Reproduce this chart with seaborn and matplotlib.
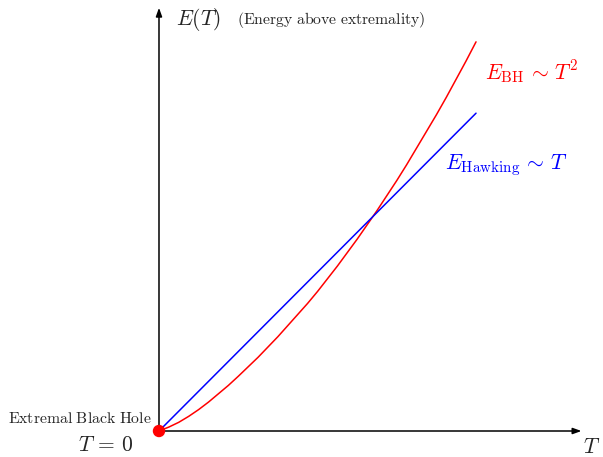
import matplotlib
matplotlib.use("Agg")
import matplotlib.pyplot as plt
import seaborn as sns
import pandas as pd

# ---- data (units: 1 unit ~ 79 px) ----
T_bh = [0, 0.125, 0.25, 0.375, 0.5, 0.625, 0.75, 0.875, 1.0, 1.125, 1.25,
        1.375, 1.5, 1.625, 1.75, 1.875, 2.0, 2.125, 2.25, 2.375, 2.5, 2.625,
        2.75, 2.875, 3.0, 3.125, 3.25, 3.375, 3.5, 3.625, 3.75, 3.875, 4.0]
E_bh = [0, 0.05, 0.11, 0.185, 0.27, 0.365, 0.47, 0.575, 0.69, 0.81, 0.93,
        1.06, 1.19, 1.33, 1.47, 1.61, 1.76, 1.92, 2.08, 2.25, 2.42, 2.60,
        2.78, 2.97, 3.16, 3.36, 3.57, 3.78, 3.99, 4.21, 4.44, 4.67, 4.91]
T_hawk = [0, 4.0]
E_hawk = [0, 4.01]
origin_T = [0]
origin_E = [0]

sns.set_style("white")
plt.rcParams["mathtext.fontset"] = "cm"
plt.rcParams["font.family"] = ["DejaVu Serif"]

fig = plt.figure(figsize=(6.03, 4.57), dpi=100)
ax = fig.add_axes([0, 0, 1, 1])
ax.set_xlim(-2.006, 5.602)
ax.set_ylim(-0.328, 5.438)
ax.axis("off")

df_bh = pd.DataFrame({"T": T_bh, "E": E_bh})
df_hw = pd.DataFrame({"T": T_hawk, "E": E_hawk})
sns.lineplot(data=df_bh, x="T", y="E", color="#ff0000", lw=1.1, ax=ax,
             estimator=None, sort=False)
sns.lineplot(data=df_hw, x="T", y="E", color="#0000ff", lw=1.1, ax=ax,
             estimator=None, sort=False)

# axes with arrows
arrow = dict(arrowstyle="-|>,head_length=0.5,head_width=0.18", color="black",
             lw=1.1, shrinkA=0, shrinkB=0)
ax.annotate("", xy=(5.33, 0), xytext=(0, 0), arrowprops=arrow)
ax.annotate("", xy=(0, 5.34), xytext=(0, 0), arrowprops=arrow)

sns.scatterplot(x=origin_T, y=origin_E, color="#ff0000", s=80, ax=ax,
                edgecolor="none", zorder=5)

ax.text(0.215, 5.19, r"$E(T)$", fontsize=15.5, ha="left", va="center")
ax.text(0.984, 5.19, r"$\mathrm{(Energy\ above\ extremality)}$", fontsize=11.3,
        ha="left", va="center")
ax.text(4.11, 4.53, r"$E_{\mathrm{BH}}\,\sim\,T^2$", fontsize=15.5, color="#ff0000",
        ha="left", va="center")
ax.text(3.61, 3.36, r"$E_{\mathrm{Hawking}}\,\sim\,T$", fontsize=15.5,
        color="#0000ff", ha="left", va="center")
ax.text(-0.088, 0.164, r"$\mathrm{Extremal\ Black\ Hole}$", fontsize=11.3,
        ha="right", va="center")
ax.text(-0.68, -0.177, r"$T\,=\,0$", fontsize=15.5, ha="center", va="center")
ax.text(5.46, -0.205, r"$T$", fontsize=15.5, ha="center", va="center")

fig.savefig("out.png", dpi=100)
